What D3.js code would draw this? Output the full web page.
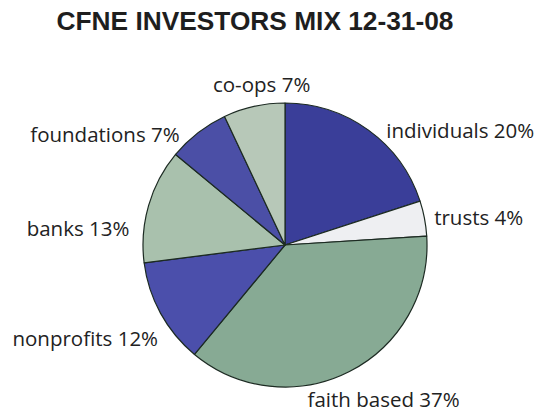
<!DOCTYPE html>
<html>
<head>
<meta charset="utf-8">
<script src="https://cdn.jsdelivr.net/npm/d3@7"></script>
<style>
  html, body { margin: 0; padding: 0; background: #fff; }
  svg { display: block; }
</style>
</head>
<body>
<div id="chart"></div>
<script>
// investor mix (percent)
const categories = ['individuals', 'trusts', 'faith based', 'nonprofits', 'banks', 'foundations', 'co-ops'];
const shares = [20, 4, 37, 12, 13, 7, 7];

const palette = ['#3a3e99', '#eeeff2', '#87aa94', '#4b4fab', '#a9c1ad', '#4b4fa6', '#b7c8b8'];
// small hand nudges so labels sit where the original put them
const labelNudge = [[6, 17], [-10, 3], [-51, 10], [15, 16], [0, 29], [-6, 18], [12, -2]];

const width = 544, height = 413;
const cx = 285, cy = 245, radius = 142;

const svg = d3.select('#chart')
    .append('svg')
    .attr('width', width)
    .attr('height', height);

svg.append('text')
    .attr('x', 255)
    .attr('y', 30)
    .attr('text-anchor', 'middle')
    .style('font-family', 'Liberation Sans, Arial, sans-serif')
    .style('font-weight', 'bold')
    .style('font-size', '26.3px')
    .style('fill', '#1e1e1e')
    .text('CFNE INVESTORS MIX 12-31-08');

const data = categories.map((c, i) => ({ name: c, value: shares[i], i }));

const pie = d3.pie().sort(null).value(d => d.value);
const arc = d3.arc().innerRadius(0).outerRadius(radius);
const arcs = pie(data);

const g = svg.append('g').attr('transform', `translate(${cx},${cy})`);

g.selectAll('path')
    .data(arcs)
    .enter()
    .append('path')
    .attr('d', arc)
    .attr('fill', d => palette[d.data.i])
    .attr('stroke', '#1c2a22')
    .attr('stroke-width', 1.2)
    .attr('stroke-linejoin', 'round');

const labelR = radius + 20;

g.selectAll('text.lbl')
    .data(arcs)
    .enter()
    .append('text')
    .attr('class', 'lbl')
    .each(function (d) {
        const mid = (d.startAngle + d.endAngle) / 2;
        const s = Math.sin(mid), c = Math.cos(mid);
        const n = labelNudge[d.data.i];
        const anchor = Math.abs(s) < 0.3 ? 'middle' : (s > 0 ? 'start' : 'end');
        d3.select(this)
            .attr('x', labelR * s + n[0])
            .attr('y', -labelR * c + n[1])
            .attr('dy', '0.35em')
            .attr('text-anchor', anchor);
    })
    .style('font-family', 'Open Sans, sans-serif')
    .style('font-size', '20.5px')
    .style('fill', '#222')
    .text(d => `${d.data.name} ${d.data.value}%`);
</script>
</body>
</html>
